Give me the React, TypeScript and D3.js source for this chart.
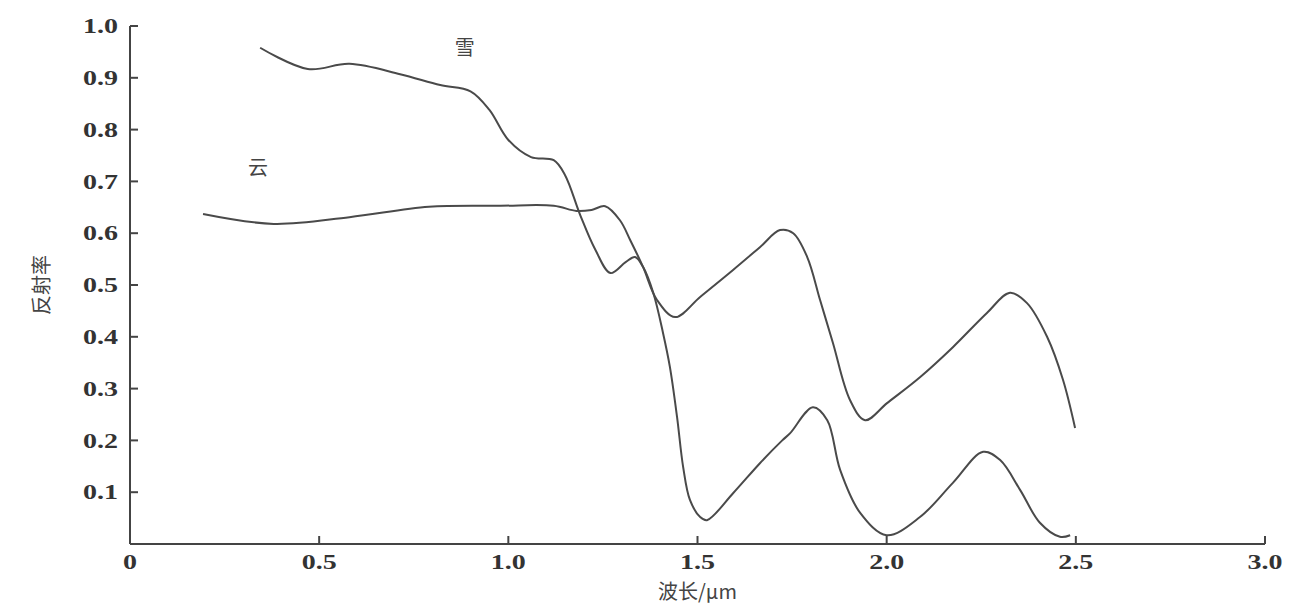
import React from 'react';
import * as d3 from 'd3';

// snow reflectance (雪)
const snowX = [0.344, 0.47, 0.58, 0.714, 0.82, 0.9, 0.95, 1.0, 1.06, 1.12, 1.15, 1.19, 1.23, 1.27, 1.31, 1.335, 1.356, 1.383, 1.409, 1.427, 1.446, 1.462, 1.48, 1.507, 1.525, 1.594, 1.665, 1.724, 1.745, 1.805, 1.843, 1.877, 1.93, 2.0, 2.088, 2.175, 2.255, 2.3, 2.353, 2.405, 2.458, 2.485];
const snowY = [0.958, 0.917, 0.927, 0.907, 0.886, 0.874, 0.838, 0.78, 0.747, 0.741, 0.712, 0.635, 0.568, 0.523, 0.544, 0.554, 0.535, 0.485, 0.407, 0.342, 0.245, 0.149, 0.085, 0.052, 0.046, 0.098, 0.156, 0.2, 0.214, 0.264, 0.239, 0.143, 0.06, 0.017, 0.052, 0.118, 0.178, 0.162, 0.104, 0.041, 0.014, 0.017];

// cloud reflectance (云)
const cloudX = [0.193, 0.38, 0.58, 0.79, 0.98, 1.12, 1.18, 1.22, 1.256, 1.295, 1.322, 1.356, 1.393, 1.441, 1.507, 1.594, 1.665, 1.718, 1.753, 1.79, 1.824, 1.858, 1.903, 1.943, 2.001, 2.088, 2.175, 2.265, 2.326, 2.371, 2.424, 2.466, 2.498];
const cloudY = [0.637, 0.618, 0.631, 0.651, 0.653, 0.653, 0.643, 0.645, 0.652, 0.625, 0.587, 0.535, 0.471, 0.438, 0.477, 0.529, 0.573, 0.606, 0.6, 0.554, 0.471, 0.388, 0.278, 0.239, 0.272, 0.322, 0.38, 0.446, 0.485, 0.465, 0.4, 0.317, 0.224];

const xTicks = [0, 0.5, 1.0, 1.5, 2.0, 2.5, 3.0];
const xTickLabels = ['0', '0.5', '1.0', '1.5', '2.0', '2.5', '3.0'];
const yTicks = [0.1, 0.2, 0.3, 0.4, 0.5, 0.6, 0.7, 0.8, 0.9, 1.0];
const yTickLabels = ['0.1', '0.2', '0.3', '0.4', '0.5', '0.6', '0.7', '0.8', '0.9', '1.0'];

const W = 1310;
const H = 612;

const App = () => {
    const x = d3.scaleLinear().domain([0, 3]).range([130, 1265]);
    const y = d3.scaleLinear().domain([0, 1]).range([544, 26]);

    const line = d3
        .line<[number, number]>()
        .x((d) => x(d[0]))
        .y((d) => y(d[1]))
        .curve(d3.curveCatmullRom.alpha(0.5));

    const snow = snowX.map((v, i) => [v, snowY[i]] as [number, number]);
    const cloud = cloudX.map((v, i) => [v, cloudY[i]] as [number, number]);

    const axisColor = '#444';
    const tickFont = '"Liberation Serif", "DejaVu Serif", serif';
    const sx = 1.4; // tick labels in the picture are stretched sideways

    return (
        <svg width={W} height={H} style={{ position: 'absolute', left: 0, top: 0, background: '#fff' }}>
            {/* axes */}
            <line x1={x(0)} x2={x(0)} y1={y(0)} y2={y(1)} stroke={axisColor} strokeWidth={2} />
            <line x1={x(0)} x2={x(3)} y1={y(0)} y2={y(0)} stroke={axisColor} strokeWidth={2} />

            {yTicks.map((t, i) => (
                <g key={'y' + i}>
                    <line x1={x(0)} x2={x(0) + 8} y1={y(t)} y2={y(t)} stroke={axisColor} strokeWidth={2} />
                    <text
                        transform={`translate(${x(0) - 12}, ${y(t)}) scale(${sx}, 1)`}
                        dy="0.36em"
                        textAnchor="end"
                        fontFamily={tickFont}
                        fontWeight="bold"
                        fontSize={20}
                        fill="#333"
                    >
                        {yTickLabels[i]}
                    </text>
                </g>
            ))}

            {xTicks.map((t, i) => (
                <g key={'x' + i}>
                    {i > 0 && (
                        <line x1={x(t)} x2={x(t)} y1={y(0)} y2={y(0) - 8} stroke={axisColor} strokeWidth={2} />
                    )}
                    <text
                        transform={`translate(${x(t)}, ${y(0) + 18}) scale(${sx}, 1)`}
                        dy="0.36em"
                        textAnchor="middle"
                        fontFamily={tickFont}
                        fontWeight="bold"
                        fontSize={20}
                        fill="#333"
                    >
                        {xTickLabels[i]}
                    </text>
                </g>
            ))}

            {/* curves */}
            <path d={line(snow) || ''} fill="none" stroke="#4a4a4a" strokeWidth={2} />
            <path d={line(cloud) || ''} fill="none" stroke="#4a4a4a" strokeWidth={2} />

            {/* series labels */}
            <text x={x(0.885)} y={y(0.957)} dy="0.35em" textAnchor="middle" fontFamily='"Noto Sans CJK SC", sans-serif' fontSize={20} fill="#444">
                雪
            </text>
            <text x={x(0.338)} y={y(0.726)} dy="0.35em" textAnchor="middle" fontFamily='"Noto Sans CJK SC", sans-serif' fontSize={20} fill="#444">
                云
            </text>

            {/* axis titles */}
            <text
                transform={`translate(42, ${y(0.5)}) rotate(-90)`}
                textAnchor="middle"
                dy="0.35em"
                fontFamily='"Noto Sans CJK SC", sans-serif'
                fontSize={20}
                fill="#444"
            >
                反射率
            </text>
            <text
                x={x(1.5)}
                y={592}
                dy="0.35em"
                textAnchor="middle"
                fontFamily='"Noto Sans CJK SC", "Liberation Serif", serif'
                fontSize={20}
                fill="#444"
            >
                波长/μm
            </text>
        </svg>
    );
};

export default App;
